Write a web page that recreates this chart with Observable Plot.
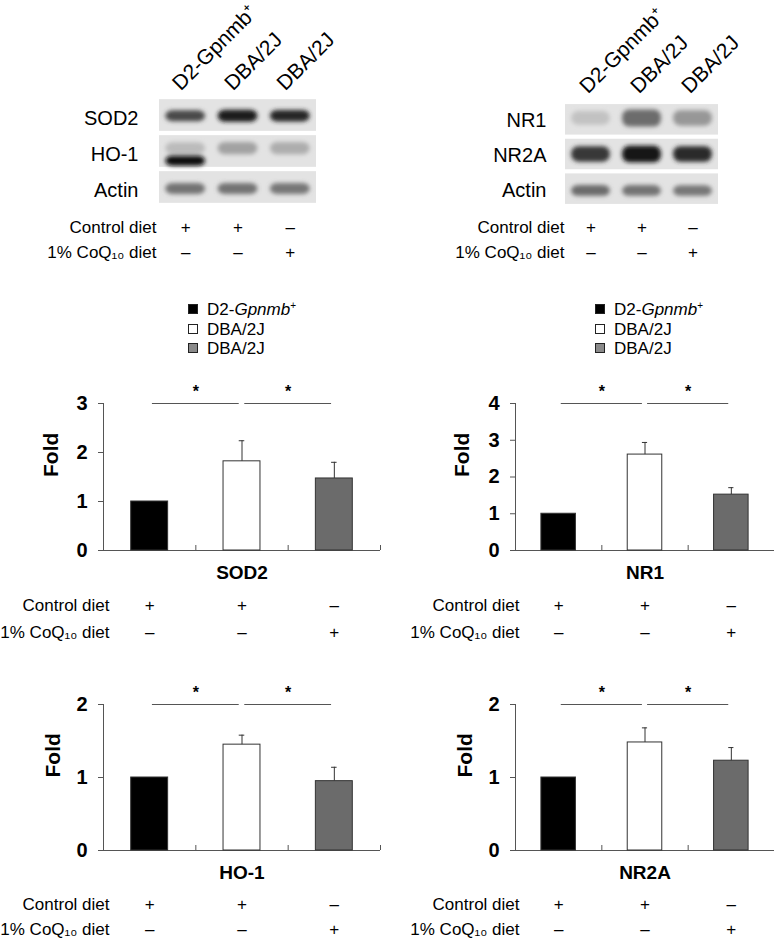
<!DOCTYPE html>
<html>
<head>
<meta charset="utf-8">
<script src="https://cdn.jsdelivr.net/npm/d3@7"></script>
<script src="https://cdn.jsdelivr.net/npm/@observablehq/plot@0.6"></script>
<style>
  body { margin: 0; background: #fff; }
  #fig { position: relative; width: 774px; height: 939px; overflow: hidden;
         font-family: "Liberation Sans", Arial, sans-serif; color: #000; }
  .panel { position: absolute; }
  .panel svg { overflow: visible; }
  .legend { position: absolute; font-size: 17px; line-height: 19.5px; white-space: nowrap; }
  .legend .sw { display: inline-block; width: 8px; height: 8px; border: 1px solid #222;
                margin-right: 9px; vertical-align: 1px; }
  .legend sup { font-size: 10px; vertical-align: 6px; line-height: 0; }
</style>
</head>
<body>
<div id="fig"></div>
<script>
// ---------------- data ----------------
const groups = ["D2-Gpnmb⁺", "DBA/2J", "DBA/2J"];
const controlDiet = ["+", "+", "–"];
const coqDiet = ["–", "–", "+"];
const dietLabels = ["Control diet", "1% CoQ₁₀ diet"];
const barFills = ["#000000", "#ffffff", "#6b6b6b"];
const legendFills = ["#000000", "#ffffff", "#8a8a8a"];

// western blot band intensities (0 = no band, 1 = saturated), one value per lane
const blotAProteins = ["SOD2", "HO-1", "Actin"];
const blotASOD2 = [0.72, 0.93, 0.88];
const blotAHO1Upper = [0.18, 0.3, 0.25];
const blotAHO1Lower = [1.0, 0, 0];
const blotAActin = [0.52, 0.52, 0.5];

const blotBProteins = ["NR1", "NR2A", "Actin"];
const blotBNR1 = [0.15, 0.55, 0.35];
const blotBNR2A = [0.8, 0.96, 0.85];
const blotBActin = [0.55, 0.52, 0.5];

// densitometry (fold of D2-Gpnmb+), mean and upper SD
const sod2Mean = [1.0, 1.82, 1.47];
const sod2Err = [0, 0.42, 0.33];
const nr1Mean = [1.0, 2.61, 1.52];
const nr1Err = [0, 0.33, 0.19];
const ho1Mean = [1.0, 1.45, 0.95];
const ho1Err = [0, 0.13, 0.19];
const nr2aMean = [1.0, 1.48, 1.23];
const nr2aErr = [0, 0.2, 0.18];
const sigPairs = [[0, 1], [1, 2]];

// ---------------- helpers ----------------
const FONT = '"Liberation Sans", Arial, sans-serif';
const fig = document.getElementById("fig");
function place(node, left, top) {
  const d = document.createElement("div");
  d.className = "panel";
  d.style.left = left + "px";
  d.style.top = top + "px";
  d.appendChild(node);
  fig.appendChild(d);
}
const lanes = d3.range(groups.length);
const shade = d3.interpolateRgb("#e2e2e2", "#0c0c0c");

function dietMarks(dyA, dyB, labelDx, x) {
  return [
    Plot.text(lanes, {x, text: i => controlDiet[i], frameAnchor: "bottom", dy: dyA, fontSize: 17}),
    Plot.text(lanes, {x, text: i => coqDiet[i], frameAnchor: "bottom", dy: dyB, fontSize: 17}),
    Plot.text([dietLabels[0]], {frameAnchor: "bottom-left", dx: labelDx, dy: dyA, textAnchor: "end", fontSize: 17}),
    Plot.text([dietLabels[1]], {frameAnchor: "bottom-left", dx: labelDx, dy: dyB, textAnchor: "end", fontSize: 17})
  ];
}

function bandMark(levels, row, shift, half) {
  const d = levels.map((level, lane) => ({lane, level})).filter(d => d.level > 0);
  return Plot.rect(d, {
    x1: d => d.lane - 0.38, x2: d => d.lane + 0.38,
    y1: d => row + shift - half * (0.6 + 0.4 * d.level),
    y2: d => row + shift + half * (0.6 + 0.4 * d.level),
    fill: d => shade(d.level), rx: 7, ariaLabel: "band"
  });
}

let blurCount = 0;
function addBlur(svg) {
  const id = "bandblur" + (blurCount++);
  const root = d3.select(svg);
  root.insert("defs", ":first-child")
    .append("filter").attr("id", id)
    .attr("x", "-50%").attr("y", "-150%").attr("width", "200%").attr("height", "400%")
    .append("feGaussianBlur").attr("stdDeviation", 2);
  root.selectAll("rect[rx]").attr("filter", `url(#${id})`);
}

function blot({proteins, bands, left, mL, mR, mT, mB, rowDx, rowDy, colDx, colDy, dietDx, dietDyA, dietDyB}) {
  const svg = Plot.plot({
    width: 387, height: 265,
    marginLeft: mL, marginRight: mR, marginTop: mT, marginBottom: mB,
    x: {domain: [-0.5, 2.5], axis: null},
    y: {domain: [-0.5, 2.5], reverse: true, axis: null},
    style: {fontFamily: FONT, background: "transparent", overflow: "visible", color: "#000"},
    marks: [
      Plot.rect(proteins, {x1: -0.5, x2: 2.5, y1: (d, i) => i - 0.44, y2: (d, i) => i + 0.44, fill: "#e3e3e3"}),
      ...bands,
      Plot.text(proteins, {y: (d, i) => i, frameAnchor: "left", dx: rowDx, dy: rowDy, textAnchor: "end", fontSize: 20}),
      Plot.text(groups, {x: (d, i) => i, frameAnchor: "top", rotate: -45, textAnchor: "start",
                         lineAnchor: "bottom", dx: colDx, dy: colDy, fontSize: 21}),
      ...dietMarks(dietDyA, dietDyB, dietDx, i => i)
    ]
  });
  addBlur(svg);
  place(svg, left, 0);
}

function barChart({title, mean, err, yMax, left, top, height, mL, mR, mT, mB, foldDx, dietDx, dietDyA, dietDyB}) {
  const data = mean.map((m, i) => ({i, m, e: err[i]}));
  const frameH = height - mT - mB;
  const withErr = data.filter(d => d.e > 0);
  const svg = Plot.plot({
    width: 387, height,
    marginLeft: mL, marginRight: mR, marginTop: mT, marginBottom: mB,
    x: {domain: [-0.5, 2.5], axis: null},
    y: {domain: [0, yMax], axis: null},
    style: {fontFamily: FONT, background: "transparent", overflow: "visible", color: "#000"},
    marks: [
      Plot.axisY({ticks: d3.range(0, yMax + 1), tickSize: 5, tickPadding: 11, fontSize: 20,
                  fontWeight: "bold", stroke: "#555", fill: "#000", label: null, tickFormat: d3.format("d")}),
      Plot.ruleX([-0.5], {y1: 0, y2: yMax, stroke: "#555"}),
      Plot.ruleY([0], {stroke: "#555"}),
      Plot.tickX([0.5, 1.5, 2.5], {x: d => d, insetTop: frameH - 5, stroke: "#555"}),
      Plot.rect(data, {x1: d => d.i - 0.2, x2: d => d.i + 0.2, y1: 0, y2: "m",
                       fill: d => barFills[d.i], stroke: "#333", strokeWidth: 1}),
      Plot.ruleX(withErr, {x: "i", y1: "m", y2: d => d.m + d.e, stroke: "#333"}),
      Plot.ruleY(withErr, {y: d => d.m + d.e, x1: d => d.i - 0.03, x2: d => d.i + 0.03, stroke: "#333"}),
      Plot.ruleY(sigPairs, {y: yMax, x1: d => d[0] + 0.03, x2: d => d[1] - 0.03, stroke: "#555"}),
      Plot.text(sigPairs, {x: d => (d[0] + d[1]) / 2, y: yMax, text: () => "*", dy: -12,
                           fontSize: 16, fontWeight: "bold"}),
      Plot.text(["Fold"], {frameAnchor: "left", rotate: -90, dx: foldDx, fontSize: 21, fontWeight: "bold"}),
      Plot.text([title], {frameAnchor: "bottom", dy: 28, fontSize: 19, fontWeight: "bold"}),
      ...dietMarks(dietDyA, dietDyB, dietDx, d => d)
    ]
  });
  place(svg, left, top);
}

function legend(left, top) {
  const div = document.createElement("div");
  div.className = "legend";
  div.style.left = left + "px";
  div.style.top = top + "px";
  const names = ["D2-<i>Gpnmb</i><sup>+</sup>", "DBA/2J", "DBA/2J"];
  div.innerHTML = names.map((n, i) =>
    `<div><span class="sw" style="background:${legendFills[i]}"></span>${n}</div>`).join("");
  fig.appendChild(div);
}

// ---------------- blots ----------------
blot({
  proteins: blotAProteins, left: 0, mL: 159, mR: 71, mT: 97, mB: 60,
  rowDx: -21, rowDy: 3, colDx: -5, colDy: -6, dietDx: -3, dietDyA: 27, dietDyB: 52,
  bands: [
    bandMark(blotASOD2, 0, 0.02, 0.17),
    bandMark(blotAHO1Upper, 1, -0.08, 0.24),
    bandMark(blotAHO1Lower, 1, 0.27, 0.14),
    bandMark(blotAActin, 2, 0.04, 0.19)
  ]
});
blot({
  proteins: blotBProteins, left: 387, mL: 178, mR: 56, mT: 102, mB: 59,
  rowDx: -19, rowDy: 1, colDx: -3, colDy: -8, dietDx: -1, dietDyA: 26, dietDyB: 51,
  bands: [
    bandMark(blotBNR1, 0, -0.04, 0.3),
    bandMark(blotBNR2A, 1, 0.0, 0.24),
    bandMark(blotBActin, 2, 0.05, 0.19)
  ]
});

// ---------------- legends ----------------
legend(188, 300);
legend(595, 300);

// ---------------- bar charts ----------------
barChart({title: "SOD2", mean: sod2Mean, err: sod2Err, yMax: 3, left: 0, top: 370, height: 280,
          mL: 103, mR: 7, mT: 33, mB: 100, foldDx: -52, dietDx: 6, dietDyA: 60, dietDyB: 87});
barChart({title: "NR1", mean: nr1Mean, err: nr1Err, yMax: 4, left: 387, top: 370, height: 280,
          mL: 128, mR: 0, mT: 33, mB: 100, foldDx: -53, dietDx: 4, dietDyA: 60, dietDyB: 87});
barChart({title: "HO-1", mean: ho1Mean, err: ho1Err, yMax: 2, left: 0, top: 670, height: 269,
          mL: 103, mR: 7, mT: 34, mB: 89, foldDx: -50, dietDx: 6, dietDyA: 59, dietDyB: 84});
barChart({title: "NR2A", mean: nr2aMean, err: nr2aErr, yMax: 2, left: 387, top: 670, height: 269,
          mL: 128, mR: 0, mT: 34, mB: 89, foldDx: -50, dietDx: 4, dietDyA: 59, dietDyB: 84});
</script>
</body>
</html>
